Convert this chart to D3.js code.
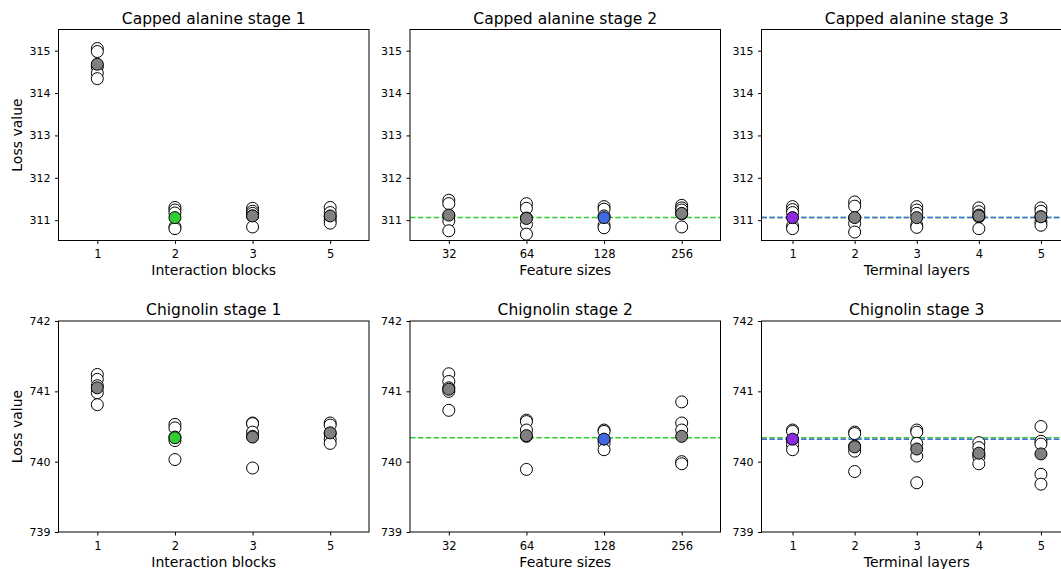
<!DOCTYPE html>
<html>
<head>
<meta charset="utf-8">
<script src="https://cdn.jsdelivr.net/npm/d3@7/dist/d3.min.js"></script>
<style>
  html, body { margin: 0; padding: 0; background: #fff; }
  svg { display: block; font-family: "DejaVu Sans", sans-serif; }
</style>
</head>
<body>
<svg id="chart" width="1061" height="569"></svg>
<script>
// Hyperparameter categories
const blockLabels = ["1", "2", "3", "5"];
const featureLabels = ["32", "64", "128", "256"];
const terminalLabels = ["1", "2", "3", "4", "5"];

// Capped alanine: final loss of each repeated run, per category
const alaStage1Runs = [
  [315.05, 314.98, 314.62, 314.47, 314.34],
  [311.30, 311.24, 311.17, 310.84, 310.80],
  [311.28, 311.21, 311.16, 311.10, 310.84],
  [311.30, 311.18, 311.08, 311.00, 310.93]
];
const alaStage1Mean = [314.68, 311.06, 311.10, 311.10];

const alaStage2Runs = [
  [311.47, 311.39, 311.10, 310.98, 310.75],
  [311.39, 311.28, 311.05, 310.90, 310.67],
  [311.32, 311.26, 311.10, 310.88, 310.82],
  [311.35, 311.29, 311.24, 311.15, 310.84]
];
const alaStage2Mean = [311.12, 311.04, 311.06, 311.16];

const alaStage3Runs = [
  [311.32, 311.25, 311.18, 310.86, 310.80],
  [311.43, 311.33, 311.05, 310.92, 310.72],
  [311.32, 311.24, 311.16, 310.88, 310.83],
  [311.29, 311.20, 311.12, 311.08, 310.80],
  [311.29, 311.21, 311.08, 310.96, 310.88]
];
const alaStage3Mean = [311.06, 311.06, 311.06, 311.10, 311.08];

// Chignolin: final loss of each repeated run, per category
const chiStage1Runs = [
  [741.24, 741.17, 741.08, 740.98, 740.81],
  [740.53, 740.48, 740.35, 740.30, 740.03],
  [740.55, 740.54, 740.42, 740.36, 739.91],
  [740.55, 740.52, 740.40, 740.32, 740.26]
];
const chiStage1Mean = [741.05, 740.34, 740.35, 740.41];

const chiStage2Runs = [
  [741.25, 741.14, 741.05, 741.00, 740.73],
  [740.59, 740.57, 740.45, 740.36, 739.89],
  [740.45, 740.43, 740.31, 740.26, 740.17],
  [740.85, 740.55, 740.45, 740.00, 739.97]
];
const chiStage2Mean = [741.03, 740.37, 740.32, 740.36];

const chiStage3Runs = [
  [740.45, 740.43, 740.30, 740.24, 740.17],
  [740.42, 740.40, 740.22, 740.15, 739.86],
  [740.45, 740.42, 740.26, 740.08, 739.70],
  [740.27, 740.20, 740.10, 740.07, 739.97],
  [740.50, 740.29, 740.25, 739.82, 739.68]
];
const chiStage3Mean = [740.32, 740.21, 740.18, 740.12, 740.11];

// Index of the category selected at each stage
const chosenStage1 = 1;
const chosenStage2 = 2;
const chosenStage3 = 0;

// Y ranges and ticks per system
const alaDomain = [310.52, 315.5];
const alaTicks = [311, 312, 313, 314, 315];
const chiDomain = [739, 742];
const chiTicks = [739, 740, 741, 742];

const stageColors = ["#32cd32", "#4169e1", "#8a2be2"];

const svg = d3.select("#chart");

const colLeft = [58.5, 410, 761.5];
const panelW = 310.5;
const rowTop = [29.5, 321];
const panelH = 211;

const panels = [
  { row: 0, col: 0, title: "Capped alanine stage 1", xlabel: "Interaction blocks", cats: blockLabels,
    runs: alaStage1Runs, mean: alaStage1Mean, stage: 0, chosen: chosenStage1, refs: [],
    domain: alaDomain, ticks: alaTicks },
  { row: 0, col: 1, title: "Capped alanine stage 2", xlabel: "Feature sizes", cats: featureLabels,
    runs: alaStage2Runs, mean: alaStage2Mean, stage: 1, chosen: chosenStage2,
    refs: [{ v: alaStage1Mean[chosenStage1], c: stageColors[0] }],
    domain: alaDomain, ticks: alaTicks },
  { row: 0, col: 2, title: "Capped alanine stage 3", xlabel: "Terminal layers", cats: terminalLabels,
    runs: alaStage3Runs, mean: alaStage3Mean, stage: 2, chosen: chosenStage3,
    refs: [{ v: alaStage1Mean[chosenStage1], c: stageColors[0] }, { v: alaStage2Mean[chosenStage2], c: stageColors[1] }],
    domain: alaDomain, ticks: alaTicks },
  { row: 1, col: 0, title: "Chignolin stage 1", xlabel: "Interaction blocks", cats: blockLabels,
    runs: chiStage1Runs, mean: chiStage1Mean, stage: 0, chosen: chosenStage1, refs: [],
    domain: chiDomain, ticks: chiTicks },
  { row: 1, col: 1, title: "Chignolin stage 2", xlabel: "Feature sizes", cats: featureLabels,
    runs: chiStage2Runs, mean: chiStage2Mean, stage: 1, chosen: chosenStage2,
    refs: [{ v: chiStage1Mean[chosenStage1], c: stageColors[0] }],
    domain: chiDomain, ticks: chiTicks },
  { row: 1, col: 2, title: "Chignolin stage 3", xlabel: "Terminal layers", cats: terminalLabels,
    runs: chiStage3Runs, mean: chiStage3Mean, stage: 2, chosen: chosenStage3,
    refs: [{ v: chiStage1Mean[chosenStage1], c: stageColors[0] }, { v: chiStage2Mean[chosenStage2], c: stageColors[1] }],
    domain: chiDomain, ticks: chiTicks }
];

const R = 6;

panels.forEach(p => {
  const x0 = colLeft[p.col], y0 = rowTop[p.row];
  const x = d3.scalePoint().domain(p.cats).range([x0, x0 + panelW]).padding(0.5);
  const y = d3.scaleLinear().domain(p.domain).range([y0 + panelH, y0]);

  const g = svg.append("g");
  const clipId = `clip-${p.row}-${p.col}`;
  svg.append("clipPath").attr("id", clipId)
    .append("rect").attr("x", x0).attr("y", y0).attr("width", panelW).attr("height", panelH);

  const plot = g.append("g").attr("clip-path", `url(#${clipId})`);

  // reference lines from previous stages' selections
  p.refs.forEach(r => {
    plot.append("line")
      .attr("x1", x0).attr("x2", x0 + panelW)
      .attr("y1", y(r.v)).attr("y2", y(r.v))
      .attr("stroke", r.c).attr("stroke-width", 1.5)
      .attr("stroke-dasharray", "5.5,2.4");
  });

  // individual runs
  p.cats.forEach((c, i) => {
    plot.selectAll(null).data(p.runs[i]).enter().append("circle")
      .attr("cx", x(c)).attr("cy", d => y(d)).attr("r", R)
      .attr("fill", "#fff").attr("stroke", "#000").attr("stroke-width", 1);
  });

  // per-category average, selected one coloured
  plot.selectAll(null).data(p.mean).enter().append("circle")
    .attr("cx", (d, i) => x(p.cats[i])).attr("cy", d => y(d)).attr("r", R)
    .attr("fill", (d, i) => i === p.chosen ? stageColors[p.stage] : "#808080")
    .attr("stroke", "#000").attr("stroke-width", 1);

  // axes
  const ax = g.append("g").attr("transform", `translate(0,${y0 + panelH})`)
    .call(d3.axisBottom(x).tickSize(3.5).tickPadding(6));
  ax.select(".domain").remove();
  ax.selectAll("text").attr("font-size", 11.5).attr("font-family", "DejaVu Sans").attr("fill", "#000");

  const ay = g.append("g").attr("transform", `translate(${x0},0)`)
    .call(d3.axisLeft(y).tickValues(p.ticks).tickFormat(d3.format("d")).tickSize(3.5).tickPadding(4.5));
  ay.select(".domain").remove();
  ay.selectAll("text").attr("font-size", 11).attr("font-family", "DejaVu Sans").attr("fill", "#000");

  // frame
  g.append("rect").attr("x", x0).attr("y", y0).attr("width", panelW).attr("height", panelH)
    .attr("fill", "none").attr("stroke", "#000").attr("stroke-width", 1);

  // title and x label
  g.append("text").attr("x", x0 + panelW / 2).attr("y", y0 - 6)
    .attr("text-anchor", "middle").attr("font-size", 15.5).text(p.title);
  g.append("text").attr("x", x0 + panelW / 2).attr("y", y0 + panelH + 34.5)
    .attr("text-anchor", "middle").attr("font-size", 14).text(p.xlabel);

  if (p.col === 0) {
    g.append("text")
      .attr("transform", `translate(22,${y0 + panelH / 2}) rotate(-90)`)
      .attr("text-anchor", "middle").attr("font-size", 14).text("Loss value");
  }
});
</script>
</body>
</html>
